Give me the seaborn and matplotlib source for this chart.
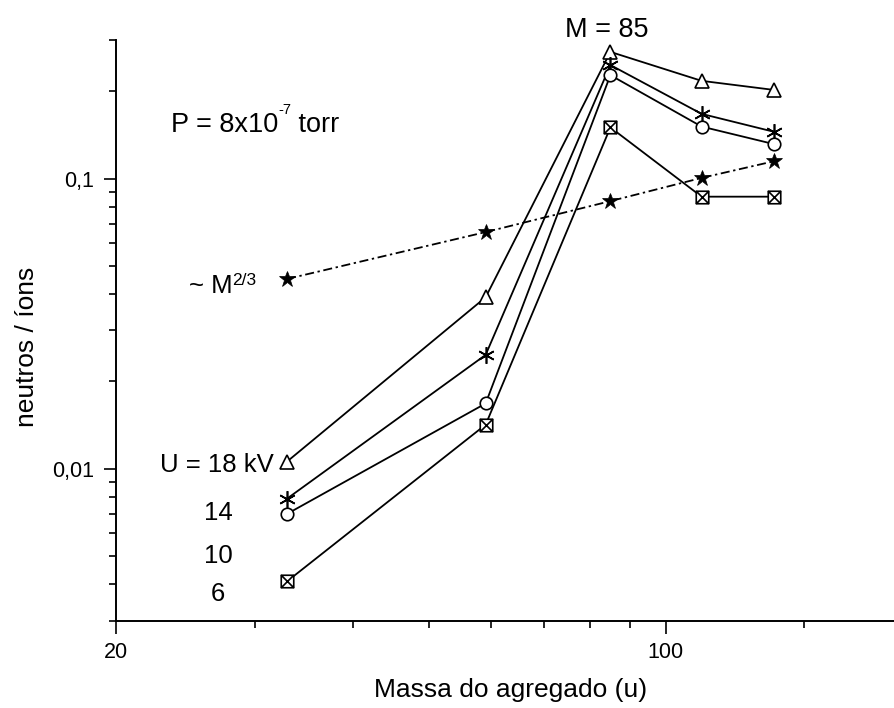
import matplotlib
matplotlib.use("Agg")
import matplotlib.pyplot as plt
from matplotlib.path import Path
from matplotlib.ticker import FixedLocator, FixedFormatter, NullFormatter
import pandas as pd
import seaborn as sns

# cluster masses (u) and neutral/ion ratios
masses = [33, 59, 85, 111, 137]
ratio_18kv = [0.0106, 0.039, 0.273, 0.217, 0.202]
ratio_14kv = [0.0079, 0.0247, 0.246, 0.167, 0.145]
ratio_10kv = [0.0070, 0.0168, 0.227, 0.151, 0.1315]
ratio_6kv = [0.0041, 0.0142, 0.150, 0.0866, 0.0866]
ratio_m23 = [0.0451, 0.0654, 0.0836, 0.1005, 0.1146]

x_major = [20, 100]
x_major_labels = ["20", "100"]
x_minor = [30, 40, 50, 60, 70, 80, 90, 150]
y_major = [0.01, 0.1]
y_major_labels = ["0,01", "0,1"]
y_minor = [0.003, 0.004, 0.005, 0.006, 0.007, 0.008, 0.009,
           0.02, 0.03, 0.04, 0.05, 0.06, 0.07, 0.08, 0.09, 0.2, 0.3]

df = pd.DataFrame({
    "massa": masses,
    "18": ratio_18kv,
    "14": ratio_14kv,
    "10": ratio_10kv,
    "6": ratio_6kv,
    "m23": ratio_m23,
})

sns.set_style("ticks")
plt.rcParams["font.family"] = ["Liberation Sans", "DejaVu Sans"]
for key in ["text.color", "axes.labelcolor", "xtick.color", "ytick.color", "axes.edgecolor"]:
    plt.rcParams[key] = "black"

W, H = 895, 708
fig = plt.figure(figsize=(W / 100, H / 100), dpi=100)
ax = fig.add_axes([116 / W, 87.3 / H, 779 / W, 580.7 / H])

# square with a cross inside (Origin style)
box_x = Path(
    [(-1, -1), (1, -1), (1, 1), (-1, 1), (-1, -1),
     (-1, -1), (1, 1), (-1, 1), (1, -1)],
    [Path.MOVETO, Path.LINETO, Path.LINETO, Path.LINETO, Path.CLOSEPOLY,
     Path.MOVETO, Path.LINETO, Path.MOVETO, Path.LINETO],
)

common = dict(color="black", lw=1.3, mec="black", mew=1.2, clip_on=False)

sns.lineplot(data=df, x="massa", y="18", ax=ax, marker="^", ms=10,
             mfc="white", estimator=None, **common)
sns.lineplot(data=df, x="massa", y="14", ax=ax, marker=(6, 2, 0), ms=12,
             estimator=None, **common)
sns.lineplot(data=df, x="massa", y="10", ax=ax, marker="o", ms=9,
             mfc="white", estimator=None, **common)
sns.lineplot(data=df, x="massa", y="6", ax=ax, marker=box_x, ms=9,
             mfc="white", estimator=None, **common)
sns.lineplot(data=df, x="massa", y="m23", ax=ax, marker="*", ms=12,
             mfc="black", estimator=None, color="black", lw=1.3,
             mec="black", mew=0.5, linestyle=(0, (5, 2, 1.3, 2)),
             clip_on=False)

ax.set_xscale("log")
ax.set_yscale("log")
ax.set_xlim(20, 195.5)
ax.set_ylim(0.003, 0.3)

ax.xaxis.set_major_locator(FixedLocator(x_major))
ax.xaxis.set_major_formatter(FixedFormatter(x_major_labels))
ax.xaxis.set_minor_locator(FixedLocator(x_minor))
ax.xaxis.set_minor_formatter(NullFormatter())
ax.yaxis.set_major_locator(FixedLocator(y_major))
ax.yaxis.set_major_formatter(FixedFormatter(y_major_labels))
ax.yaxis.set_minor_locator(FixedLocator(y_minor))
ax.yaxis.set_minor_formatter(NullFormatter())

ax.tick_params(which="major", length=9, width=1.2, direction="out", color="black")
ax.tick_params(which="minor", length=4.8, width=1.2, direction="out", color="black")
ax.tick_params(axis="x", which="major", labelsize=15.5, pad=6)
ax.tick_params(axis="y", which="major", labelsize=15.5, pad=7)

sns.despine(ax=ax)
for side in ["left", "bottom"]:
    ax.spines[side].set_linewidth(1.4)

ax.set_xlabel("")
ax.set_ylabel("")


def fpos(x, y):
    return x / W, 1 - y / H


renderer = fig.canvas.get_renderer()


def run_text(x, y, parts):
    # parts: (text, fontsize, raise_px); placed one after another
    for txt, size, rise in parts:
        t = fig.text(*fpos(x, y - rise), txt, ha="left", va="baseline", fontsize=size)
        x = t.get_window_extent(renderer).x1


fig.text(*fpos(511, 690), "Massa do agregado (u)", ha="center", va="center", fontsize=19)
fig.text(*fpos(27, 347), "neutros / íons", ha="center", va="center",
         rotation=90, fontsize=19)

fig.text(*fpos(607, 37), "M = 85", ha="center", va="baseline", fontsize=19.5)
run_text(171, 131.7, [("P = 8x10", 19.5, 0), ("-7", 10.5, 18), (" torr", 19.5, 0)])
run_text(189, 293, [("~ M", 18.5, 0), ("2/3", 12.5, 8)])
fig.text(*fpos(274, 471.7), "U = 18 kV", ha="right", va="baseline", fontsize=18.5)
fig.text(*fpos(218, 520), "14", ha="center", va="baseline", fontsize=18.5)
fig.text(*fpos(218, 563), "10", ha="center", va="baseline", fontsize=18.5)
fig.text(*fpos(218, 601), "6", ha="center", va="baseline", fontsize=18.5)

fig.savefig("out.png", dpi=100)
